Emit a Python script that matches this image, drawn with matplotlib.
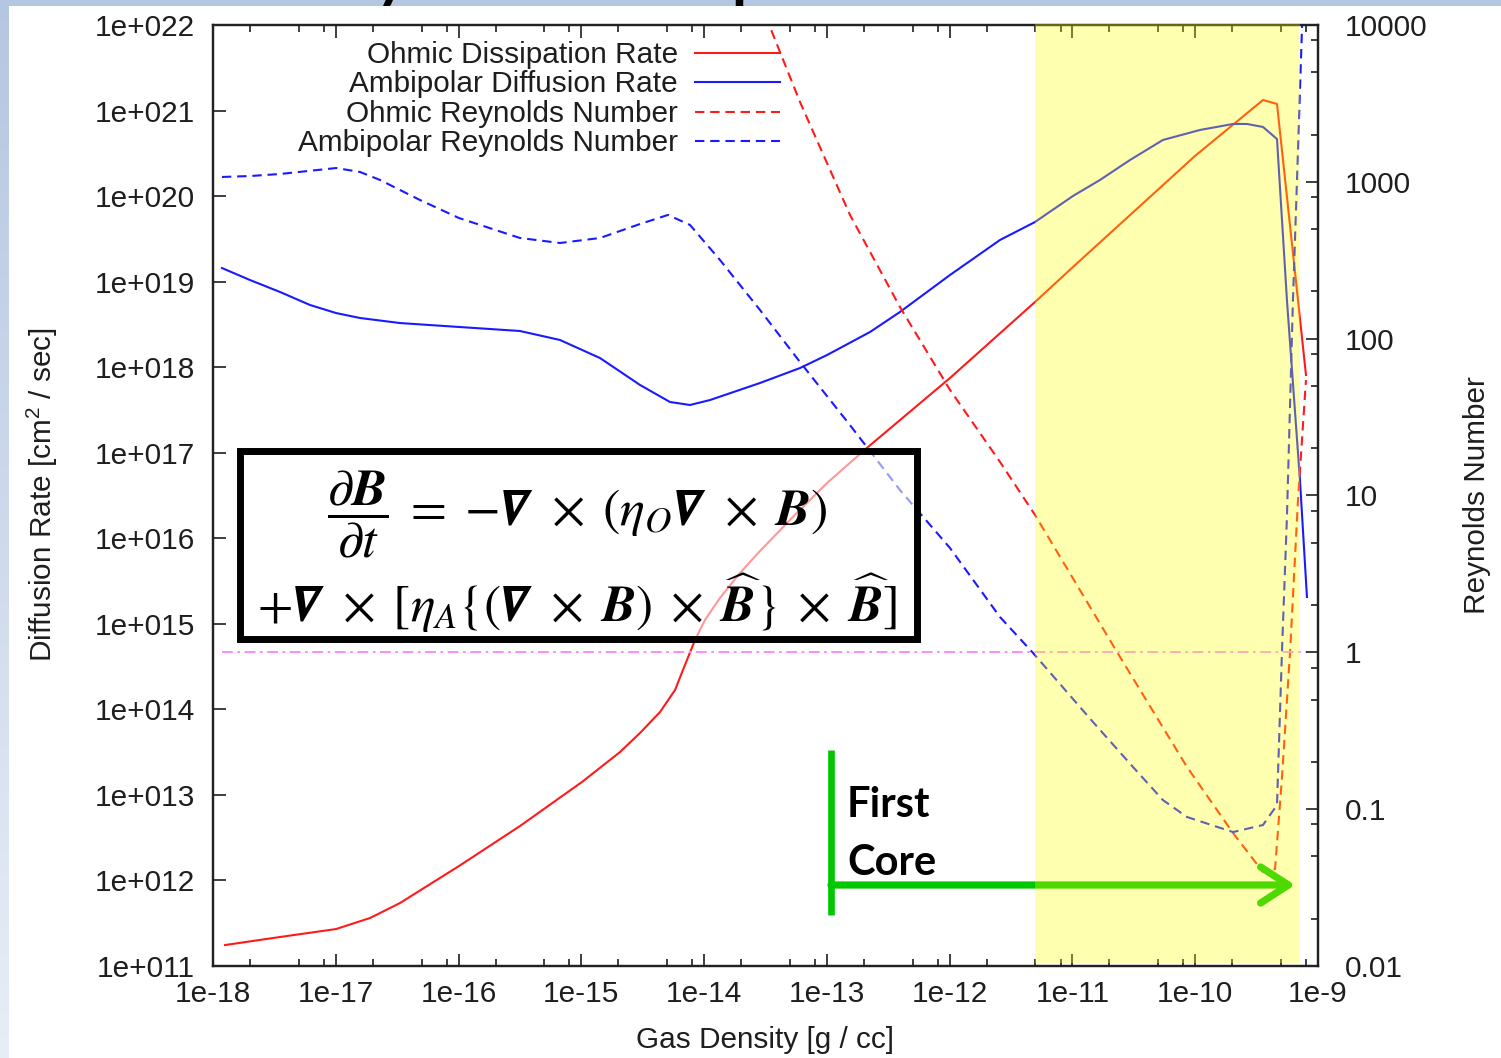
import os
import numpy as np
import matplotlib
matplotlib.use("Agg")
import matplotlib.pyplot as plt
from matplotlib.patches import Rectangle, FancyArrowPatch
from matplotlib.lines import Line2D
from matplotlib.ticker import LogLocator, FuncFormatter, NullLocator, NullFormatter

plt.rcParams["font.family"] = ["Liberation Sans", "DejaVu Sans"]
plt.rcParams["mathtext.fontset"] = "custom"
plt.rcParams["mathtext.rm"] = "Liberation Sans"
plt.rcParams["mathtext.it"] = "Liberation Sans:italic"
plt.rcParams["mathtext.bf"] = "Liberation Sans:bold"

# ---- data (log10 of gas density [g/cc] and of the plotted quantity) ----
ohmic_rate_logrho = [-17.902, -17.454, -16.998, -16.721, -16.477, -15.996, -15.5, -14.995,
                     -14.685, -14.522, -14.359, -14.237, -14.156, -14.074, -13.993, -13.871,
                     -13.708, -13.545, -13.301, -12.999, -12.665, -11.997, -11.305, -10.996,
                     -10.002, -9.448, -9.334, -9.163, -9.098]
ohmic_rate_log = [11.245, 11.339, 11.432, 11.561, 11.736, 12.169, 12.636, 13.151,
                  13.501, 13.724, 13.969, 14.226, 14.519, 14.811, 15.045, 15.302,
                  15.594, 15.851, 16.214, 16.646, 17.067, 17.874, 18.762, 19.171,
                  20.469, 21.123, 21.077, 18.785, 17.909]

ambipolar_rate_logrho = [-17.927, -17.699, -17.454, -17.21, -16.998, -16.803, -16.477, -15.996,
                         -15.5, -15.174, -14.848, -14.522, -14.278, -14.115, -13.952, -13.545,
                         -13.219, -12.999, -12.649, -12.405, -11.997, -11.59, -11.305, -10.996,
                         -10.776, -10.531, -10.263, -9.961, -9.692, -9.578, -9.448, -9.334,
                         -9.253, -9.147, -9.09]
ambipolar_rate_log = [19.159, 19.019, 18.879, 18.727, 18.633, 18.575, 18.516, 18.47,
                      18.423, 18.318, 18.107, 17.792, 17.593, 17.558, 17.616, 17.815,
                      17.99, 18.142, 18.411, 18.645, 19.078, 19.487, 19.697, 20.001,
                      20.188, 20.422, 20.656, 20.773, 20.843, 20.843, 20.808, 20.667,
                      18.785, 16.681, 15.314]

ohmic_re_logrho = [-13.545, -13.219, -12.812, -12.405, -11.997, -11.59, -11.305, -10.637,
                   -10.067, -9.692, -9.448, -9.35, -9.293, -9.228, -9.163, -9.098]
ohmic_re_log = [4.147, 3.509, 2.789, 2.202, 1.673, 1.214, 0.876, 0.002,
                -0.731, -1.152, -1.401, -1.382, -0.795, -0.004, 0.971, 1.736]

ambipolar_re_logrho = [-17.927, -17.699, -17.454, -16.998, -16.803, -16.64, -16.314, -15.996,
                       -15.5, -15.174, -14.848, -14.522, -14.294, -14.115, -13.871, -13.545,
                       -13.219, -12.812, -12.405, -11.997, -11.59, -11.321, -10.833, -10.507,
                       -10.263, -10.067, -9.692, -9.448, -9.334, -9.293, -9.253, -9.204,
                       -9.171, -9.13, -9.098]
ambipolar_re_log = [3.031, 3.037, 3.05, 3.088, 3.063, 3.012, 2.884, 2.769,
                    2.642, 2.61, 2.642, 2.731, 2.789, 2.725, 2.502, 2.183,
                    1.851, 1.449, 1.035, 0.665, 0.225, -0.004, -0.444, -0.731,
                    -0.942, -1.05, -1.146, -1.101, -0.974, 0.015, 0.863, 2.247,
                    3.012, 3.987, 4.415]

critical_reynolds = 1.0
first_core_logrho = [-11.305, -9.15]   # shaded first-core density range

labels = ["Ohmic Dissipation Rate", "Ambipolar Diffusion Rate",
          "Ohmic Reynolds Number", "Ambipolar Reynolds Number"]

RED = "#ff1a1a"
BLUE = "#1a1aff"
GREEN = "#00c800"
FS = 21.4

W, H = 1501, 1058
fig = plt.figure(figsize=(W / 100, H / 100), dpi=100)


def fx(px):
    return px / W


def fy(py):
    return 1 - py / H


# ---- slide background: blue band at top, gradient strip on the left ----
strip = fig.add_axes([0, 0, fx(9), 1], zorder=-10)
top_c = np.array([0.706, 0.780, 0.886])
bot_c = np.array([0.905, 0.932, 0.970])
t = np.linspace(0, 1, 256)[:, None, None]
strip.imshow(top_c * (1 - t) + bot_c * t, aspect="auto", extent=[0, 1, 0, 1])
strip.axis("off")

band = fig.add_axes([0, fy(6), 1, 6 / H], zorder=-9)
band.set_facecolor("#b4c7e2")
band.set_xticks([])
band.set_yticks([])
for s in band.spines.values():
    s.set_visible(False)
# slide title sits above the visible area; only its descenders reach the band
for ch, xp, ha in (("y", 392, "center"), ("p", 731, "left")):
    tt = band.text(fx(xp), 10 / 6, ch, transform=band.transAxes, fontfamily="Lato",
                   fontweight="bold", fontsize=44, ha=ha, va="baseline")
    tt.set_clip_box(band.bbox)
    tt.set_clip_on(True)

# ---- main axes ----
ax = fig.add_axes([fx(213), fy(966), fx(1318) - fx(213), fy(25) - fy(966)])
ax.set_xscale("log")
ax.set_yscale("log")
ax.set_xlim(1e-18, 1e-9)
ax.set_ylim(1e11, 1e22)

ax2 = ax.twinx()
ax2.set_yscale("log")
ax2.set_ylim(1e-2, 1e4)

rho = lambda a: 10 ** np.asarray(a)
h1, = ax.plot(rho(ohmic_rate_logrho), rho(ohmic_rate_log), color=RED, lw=1.5, label=labels[0])
h2, = ax.plot(rho(ambipolar_rate_logrho), rho(ambipolar_rate_log), color=BLUE, lw=1.5, label=labels[1])
h3, = ax2.plot(rho(ohmic_re_logrho), rho(ohmic_re_log), color=RED, lw=1.5,
               ls=(0, (4.5, 2.8)), label=labels[2])
h4, = ax2.plot(rho(ambipolar_re_logrho), rho(ambipolar_re_log), color=BLUE, lw=1.5,
               ls=(0, (4.5, 2.8)), label=labels[3])
ax2.hlines(critical_reynolds, rho(ambipolar_re_logrho[0]), rho(ohmic_re_logrho[-1]),
           color="#ff80ff", lw=1.3, linestyles=[(0, (6, 2.5, 1.5, 2.5))])

# ticks
ax.xaxis.set_major_locator(LogLocator(base=10, numticks=30))
ax.xaxis.set_minor_locator(LogLocator(base=10, subs=[2, 5, 8], numticks=30))
ax.xaxis.set_major_formatter(FuncFormatter(lambda v, p: f"1e{int(round(np.log10(v)))}"))
ax.xaxis.set_minor_formatter(NullFormatter())
ax.yaxis.set_major_locator(LogLocator(base=10, numticks=30))
ax.yaxis.set_minor_locator(NullLocator())
ax.yaxis.set_major_formatter(FuncFormatter(lambda v, p: f"1e+{int(round(np.log10(v))):03d}"))
ax2.yaxis.set_major_locator(LogLocator(base=10, numticks=30))
ax2.yaxis.set_minor_locator(LogLocator(base=10, subs=[2, 5, 8], numticks=30))
ax2.yaxis.set_major_formatter(FuncFormatter(lambda v, p: f"{v:g}"))
ax2.yaxis.set_minor_formatter(NullFormatter())

TC = "#1e1e1e"
ax.tick_params(axis="x", which="both", direction="in", top=True, bottom=True,
               labelsize=FS, pad=10, colors=TC, width=1.2)
ax.tick_params(axis="x", which="major", length=9)
ax.tick_params(axis="x", which="minor", length=5)
ax.tick_params(axis="y", which="major", direction="in", left=True, right=False,
               length=9, width=1.2, labelsize=FS, pad=13, colors=TC)
ax2.tick_params(axis="y", which="both", direction="in", right=True, left=False,
                labelsize=FS, pad=19, colors=TC, width=1.2)
ax2.tick_params(axis="y", which="major", length=9)
ax2.tick_params(axis="y", which="minor", length=5)
for a in (ax, ax2):
    for s in a.spines.values():
        s.set_color("#222222")
        s.set_linewidth(1.6)

leg = ax2.legend([h1, h2, h3, h4], labels, loc="upper right",
                 bbox_to_anchor=(0.5131, 0.983), frameon=False, markerfirst=False,
                 fontsize=FS, handlelength=2.85, handletextpad=0.58,
                 labelspacing=0.05, borderpad=0, borderaxespad=0)
for txt in leg.get_texts():
    txt.set_color(TC)

# axis titles
fig.text(fx(42), fy(495), "Diffusion Rate [cm$^2$ / sec]", rotation=90,
         ha="center", va="center", fontsize=FS, color=TC)
fig.text(fx(765), fy(1040), "Gas Density [g / cc]", ha="center", va="center",
         fontsize=FS, color=TC)
fig.text(fx(1477), fy(495), "Reynolds Number", rotation=90, ha="center", va="center",
         fontsize=FS, color=TC)

# ---- first core marker (green) ----
fig.add_artist(Line2D([fx(831), fx(831)], [fy(750), fy(915)], transform=fig.transFigure,
                      color=GREEN, lw=4.8, solid_capstyle="butt", zorder=1))
core_arrow = FancyArrowPatch((fx(831), fy(885)), (fx(1295), fy(885)),
                             transform=fig.transFigure,
                             arrowstyle="->,head_length=20,head_width=13",
                             color=GREEN, lw=5.2, capstyle="round", joinstyle="round",
                             shrinkA=0, shrinkB=0, mutation_scale=1, zorder=1)
fig.add_artist(core_arrow)
fig.text(fx(847), fy(817), "First", fontfamily="Lato", fontweight="bold", fontsize=30,
         ha="left", va="baseline", color="black", zorder=4)
fig.text(fx(847), fy(875), "Core", fontfamily="Lato", fontweight="bold", fontsize=30,
         ha="left", va="baseline", color="black", zorder=4)

# ---- shaded first-core density range ----
x0 = ax.transData.transform((rho(first_core_logrho[0]), 1e15))[0]
x1 = ax.transData.transform((rho(first_core_logrho[1]), 1e15))[0]
x0f, x1f = fig.transFigure.inverted().transform([(x0, 0), (x1, 0)])[:, 0]
fig.add_artist(Rectangle((x0f, fy(963)), x1f - x0f, fy(24) - fy(963),
                         transform=fig.transFigure, facecolor="#ffff00", alpha=0.31,
                         edgecolor="none", zorder=2))

# ---- induction equation box ----
fig.add_artist(Rectangle((fx(240), fy(639)), fx(917) - fx(240), fy(451) - fy(639),
                         transform=fig.transFigure, facecolor=(1, 1, 1, 0.55),
                         edgecolor="black", lw=5, zorder=3))

# bold-italic nabla from STIX when the font carries it
NB = r"\mathbf{\nabla}"
try:
    from fontTools.ttLib import TTFont
    stix_file = os.path.join(matplotlib.get_data_path(), "fonts", "ttf", "STIXGeneral.ttf")
    stix_cmap = TTFont(stix_file).getBestCmap()
    for cp in (0x1D735, 0x1D6C1):
        if cp in stix_cmap:
            NB = r"\mathrm{" + chr(cp) + "}"
            break
except Exception:
    pass
BB = r"\mathbfit{B}"
eq1 = (r"$\dfrac{\partial " + BB + r"}{\partial t}\;=\;{-}" + NB + r"\;\times\;(\eta_O"
       + NB + r"\;\times\;" + BB + r")$")
eq2 = (r"$+" + NB + r"\;\times\;[\eta_A\{(" + NB + r"\;\times\;" + BB + r")\;\times\;\widehat{"
       + BB + r"}\}\;\times\;\widehat{" + BB + r"}]$")
fig.text(fx(577), fy(514), eq1, ha="center", va="center", fontsize=37.5,
         math_fontfamily="stix", zorder=4)
fig.text(fx(577), fy(603), eq2, ha="center", va="center", fontsize=37,
         math_fontfamily="stix", zorder=4)

fig.savefig("out.png", dpi=100)
